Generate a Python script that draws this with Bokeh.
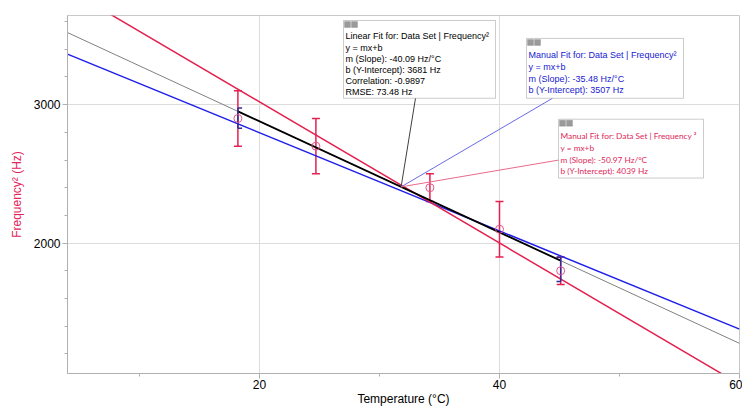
import numpy as np
from bokeh.plotting import figure
from bokeh.models import (ColumnDataSource, Range1d, FixedTicker, Whisker, TeeHead,
                          Label, BoxAnnotation)
from bokeh.embed import file_html
from bokeh.resources import INLINE

# ---------------- data ----------------
temperature = [18.2, 24.7, 34.2, 40.0, 45.1]
freq_sq = [2900, 2700, 2400, 2100, 1800]
freq_sq_err = [200, 200, 100, 200, 100]

linear_m, linear_b = -40.09, 3681
linear_r, linear_rmse = -0.9897, 73.48
blue_m, blue_b = -35.48, 3507
red_m, red_b = -50.97, 4039

fit_region_x = [18.2, 45.1]
bracket_lo = [2830, 1723]
bracket_hi = [2975, 1897]

x_ticks = [20, 40, 60]
x_minor = [10, 30, 50]
y_ticks = [2000, 3000]
y_minor = [1200, 1400, 1600, 1800, 2200, 2400, 2600, 2800, 3200, 3400, 3600]

X_RANGE = (4, 60)
Y_RANGE = (1058, 3644)

# ---------------- styling constants ----------------
RED = "#e3214f"
BLUE = "#1f1fe8"
PINK = "#e4548a"
NAVY = "#2d2d9c"
FONT = "Liberation Sans"

# pixel geometry of the frame (used only to place annotation boxes)
FL, FR, FT, FB = 67, 739, 15, 374


def dx(px):
    return X_RANGE[0] + (px - FL) / (FR - FL) * (X_RANGE[1] - X_RANGE[0])


def dy(py):
    return Y_RANGE[1] - (py - FT) / (FB - FT) * (Y_RANGE[1] - Y_RANGE[0])


p = figure(width=742, height=408, x_range=Range1d(*X_RANGE), y_range=Range1d(*Y_RANGE),
           output_backend="svg", toolbar_location=None, title=None,
           min_border_left=FL, min_border_right=742 - FR, min_border_top=FT,
           min_border_bottom=408 - FB)
p.background_fill_color = "white"
p.border_fill_color = "white"
p.outline_line_color = "#c8c8c8"

p.xaxis.ticker = FixedTicker(ticks=x_ticks, minor_ticks=x_minor)
p.yaxis.ticker = FixedTicker(ticks=y_ticks, minor_ticks=y_minor)
for ax in (p.xaxis[0], p.yaxis[0]):
    ax.axis_line_color = "#b0b0b0"
    ax.major_tick_line_color = "#b0b0b0"
    ax.minor_tick_line_color = "#b0b0b0"
    ax.major_tick_out = 5
    ax.major_tick_in = 0
    ax.minor_tick_out = 3
    ax.minor_tick_in = 0
    ax.major_label_text_font = FONT
    ax.major_label_text_font_size = "12px"
    ax.major_label_text_color = "black"
    ax.major_label_standoff = 2
    ax.axis_label_text_font = FONT
    ax.axis_label_text_font_size = "12px"
    ax.axis_label_text_font_style = "normal"
p.yaxis.axis_label = "Frequency² (Hz)"
p.yaxis.axis_label_text_color = "#e3245c"
p.yaxis.axis_label_standoff = 7
p.xaxis.axis_label = "Temperature (°C)"
p.xaxis.axis_label_text_color = "black"
p.xaxis.axis_label_standoff = 0
p.xaxis.major_label_standoff = 1
p.grid.grid_line_color = "#dcdcdc"

# ---------------- fit lines ----------------
xs = np.array(X_RANGE, dtype=float)
p.line(xs, linear_m * xs + linear_b, line_color="#808080", line_width=1)
p.line(xs, blue_m * xs + blue_b, line_color=BLUE, line_width=1.5)
p.line(xs, red_m * xs + red_b, line_color=RED, line_width=1.5)
fx = np.array(fit_region_x, dtype=float)
p.line(fx, linear_m * fx + linear_b, line_color="black", line_width=1.8)

# ---------------- fit-region brackets ----------------
bdir = np.array([1, -1])
tick_len = 0.35
p.segment(fx, bracket_lo, fx, bracket_hi, line_color=NAVY, line_width=1.5)
p.segment(fx, bracket_lo, fx + bdir * tick_len, bracket_lo, line_color=NAVY, line_width=1.5)
p.segment(fx, bracket_hi, fx + bdir * tick_len, bracket_hi, line_color=NAVY, line_width=1.5)

# ---------------- data points with error bars ----------------
t = np.array(temperature, dtype=float)
f = np.array(freq_sq, dtype=float)
e = np.array(freq_sq_err, dtype=float)
src = ColumnDataSource(dict(x=t, y=f, upper=f + e, lower=f - e))
p.add_layout(Whisker(source=src, base="x", upper="upper", lower="lower",
                     line_color=RED, line_width=1.5,
                     upper_head=TeeHead(size=8, line_color=RED, line_width=1.5),
                     lower_head=TeeHead(size=8, line_color=RED, line_width=1.5)))
p.scatter("x", "y", source=src, marker="circle", size=8, fill_color=None,
          line_color=PINK, line_width=1)

# ---------------- leader lines ----------------
anchor_x = 31.8
anchor_y = linear_m * anchor_x + linear_b
p.segment([anchor_x], [anchor_y], [dx(415)], [dy(98)], line_color="#404040", line_width=1)
p.segment([anchor_x], [anchor_y], [dx(552)], [dy(98)], line_color="#6a6ae6", line_width=1)
p.segment([anchor_x], [anchor_y], [dx(558)], [dy(160)], line_color="#e86a8a", line_width=1)


# ---------------- annotation boxes ----------------
def fit_box(l, r, t_, b, lines, color, font, size, top_text, line_h):
    p.add_layout(BoxAnnotation(left=dx(l), right=dx(r), top=dy(t_), bottom=dy(b),
                               fill_color="white", fill_alpha=1.0,
                               line_color="#555555", line_width=1, level="overlay"))
    for i in range(2):
        p.add_layout(BoxAnnotation(left=dx(l + 1 + 7 * i), right=dx(l + 7 + 7 * i),
                                   top=dy(t_ + 1), bottom=dy(t_ + 7),
                                   fill_color="#9a9a9a", fill_alpha=1.0,
                                   line_color="#6a6a6a", line_width=0.8, level="overlay"))
    p.add_layout(Label(x=dx(l + 2), y=dy(top_text), text="\n".join(lines),
                       text_font=font, text_font_size=size, text_color=color,
                       text_baseline="top", text_align="left",
                       text_line_height=line_h, level="overlay"))


fit_box(343, 495, 20, 98,
        ["Linear Fit for: Data Set | Frequency²", "y = mx+b",
         f"m (Slope): {linear_m:.2f} Hz/°C", f"b (Y-Intercept): {linear_b} Hz",
         f"Correlation: {linear_r:.4f}", f"RMSE: {linear_rmse:.2f} Hz"],
        "black", FONT, "9px", 31, 1.12)
fit_box(526, 683, 38, 98,
        ["Manual Fit for: Data Set | Frequency²", "y = mx+b",
         f"m (Slope): {blue_m:.2f} Hz/°C", f"b (Y-Intercept): {blue_b} Hz"],
        "#2020d0", FONT, "9px", 50, 1.17)
fit_box(558, 703, 119, 178,
        ["Manual Fit for: Data Set | Frequency ²", "y = mx+b",
         f"m (Slope): {red_m:.2f} Hz/°C", f"b (Y-Intercept): {red_b} Hz"],
        "#e0285a", "Lato", "8.3px", 131, 1.17)

open("out.html", "w").write(file_html(p, INLINE))
